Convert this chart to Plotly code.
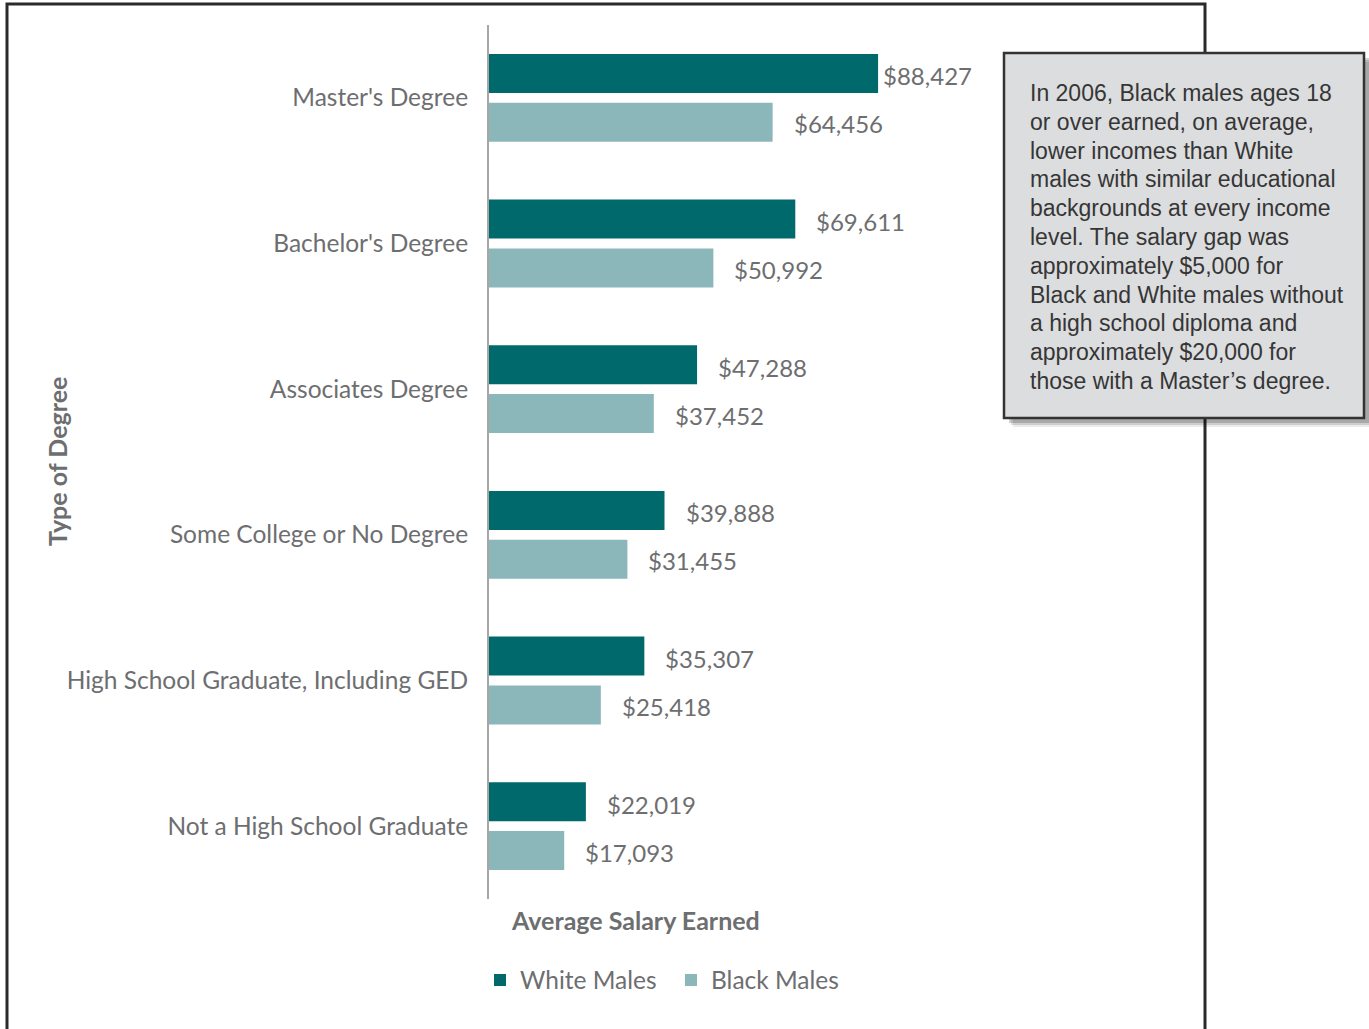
import plotly.graph_objects as go

categories = ["Master's Degree", "Bachelor's Degree", "Associates Degree",
              "Some College or No Degree", "High School Graduate, Including GED",
              "Not a High School Graduate"]
white_males = [88427, 69611, 47288, 39888, 35307, 22019]
black_males = [64456, 50992, 37452, 31455, 25418, 17093]
series_names = ["White Males", "Black Males"]

note_lines = [
    "In 2006, Black males ages 18",
    "or over earned, on average,",
    "lower incomes than White",
    "males with similar educational",
    "backgrounds at every income",
    "level. The salary gap was",
    "approximately $5,000 for",
    "Black and White males without",
    "a high school diploma and",
    "approximately $20,000 for",
    "those with a Master’s degree.",
]

W, H = 1369, 1029
L, T, B = 489, 25, 130
PW = W - L
PH = H - T - B

def px(x):
    return (x - L) / PW

def py(y):
    return (H - B - y) / PH

TEAL = "#00696b"
LTEAL = "#8bb6ba"
GREY = "#6d6e70"
FONT = "Lato"

fig = go.Figure()
fig.add_trace(go.Bar(y=categories, x=white_males, orientation="h", name=series_names[0],
                     marker=dict(color=TEAL, line=dict(width=0))))
fig.add_trace(go.Bar(y=categories, x=black_males, orientation="h", name=series_names[1],
                     marker=dict(color=LTEAL, line=dict(width=0))))

annotations = []
for i, (c, wv, bv) in enumerate(zip(categories, white_males, black_males)):
    annotations.append(dict(x=wv, y=c, xref="x", yref="y", text=f"${wv:,}",
                            showarrow=False, xanchor="left", yanchor="middle",
                            xshift=3 if i == 0 else 19, yshift=22,
                            font=dict(family=FONT, size=24, color=GREY)))
    annotations.append(dict(x=bv, y=c, xref="x", yref="y", text=f"${bv:,}",
                            showarrow=False, xanchor="left", yanchor="middle",
                            xshift=19, yshift=-26,
                            font=dict(family=FONT, size=24, color=GREY)))

# axis titles
annotations.append(dict(x=px(57), y=py(462), xref="paper", yref="paper", text="<b>Type of Degree</b>",
                        textangle=-90, showarrow=False, xanchor="center", yanchor="middle",
                        font=dict(family=FONT, size=25, color=GREY)))
annotations.append(dict(x=px(509), y=py(920), xref="paper", yref="paper", text="<b>Average Salary Earned</b>",
                        showarrow=False, xanchor="left", yanchor="middle",
                        font=dict(family=FONT, size=25, color=GREY)))

# note text
for k, line in enumerate(note_lines):
    annotations.append(dict(x=px(1028), y=py(93 + k * 28.8), xref="paper", yref="paper", text=line,
                            showarrow=False, xanchor="left", yanchor="middle",
                            font=dict(family="Liberation Sans", size=23, color="#363636")))

shapes = [
    # outer frame
    dict(type="rect", xref="paper", yref="paper", x0=px(7), x1=px(1205), y0=-0.3, y1=py(4),
         line=dict(color="#2a2a2a", width=3), fillcolor="rgba(0,0,0,0)", layer="above"),
]
# shadow
for off, a in [(9, 0.08), (7, 0.12), (5, 0.18)]:
    shapes.append(dict(type="rect", xref="paper", yref="paper",
                       x0=px(1004 + off), x1=px(1364 + off), y0=py(418 + off), y1=py(53 + off),
                       line=dict(width=0), fillcolor=f"rgba(0,0,0,{a})", layer="above"))
shapes.append(dict(type="rect", xref="paper", yref="paper",
                   x0=px(1004), x1=px(1364), y0=py(418), y1=py(53),
                   line=dict(color="#333333", width=2.5), fillcolor="#dcdddf", layer="above"))

fig.update_layout(
    width=W, height=H,
    margin=dict(l=L, r=0, t=T, b=B),
    paper_bgcolor="white", plot_bgcolor="white",
    barmode="group", bargap=0.33, bargroupgap=0.2,
    showlegend=True,
    legend=dict(orientation="h", x=px(480), y=py(980), xanchor="left", yanchor="middle",
                font=dict(family=FONT, size=24.5, color=GREY), bgcolor="rgba(0,0,0,0)",
                traceorder="normal", entrywidth=146),
    xaxis=dict(range=[0, 200000], visible=False, showgrid=False, zeroline=False),
    yaxis=dict(autorange="reversed", showgrid=False, zeroline=False, showline=True,
               linecolor="#a6a6a6", linewidth=2, ticks="", ticklabelstandoff=14,
               tickfont=dict(family=FONT, size=24.5, color=GREY)),
    annotations=annotations,
    shapes=shapes,
)

fig.write_html("out.html", config={"displayModeBar": False},
               post_script="document.body.style.margin='0';")
